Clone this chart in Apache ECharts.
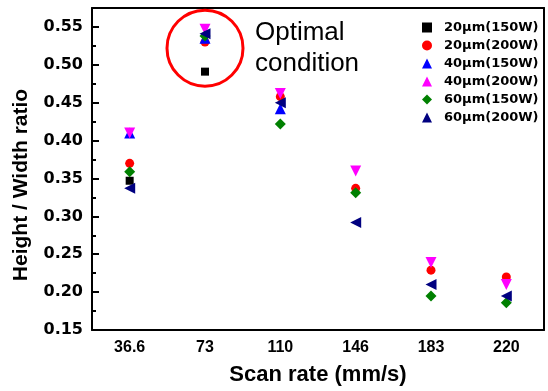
<!DOCTYPE html>
<html>
<head>
<meta charset="utf-8">
<script src="https://cdn.jsdelivr.net/npm/echarts@6/dist/echarts.min.js"></script>
<style>
  html, body { margin: 0; padding: 0; background: #fff; }
  #chart { width: 548px; height: 391px; }
</style>
</head>
<body>
<div id="chart"></div>
<script>
const scanRates = ['36.6', '73', '110', '146', '183', '220']
const seriesNames = ['20μm(150W)', '20μm(200W)', '40μm(150W)', '40μm(200W)', '60μm(150W)', '60μm(200W)']

// null = hidden behind other markers
const d20_150 = [0.347, 0.491, null, null, null, null]
const d20_200 = [0.370, 0.530, 0.458, 0.337, 0.229, 0.220]
const d40_150 = [0.410, 0.535, 0.442, null, null, null]
const d40_200 = [0.410, 0.547, 0.462, 0.360, 0.239, 0.210]
const d60_150 = [0.359, 0.538, 0.422, 0.331, 0.195, 0.186]
const d60_200 = [0.337, 0.541, 0.450, 0.292, 0.210, 0.195]

const optimal = { rate: '73', value: 0.522 }

const chart = echarts.init(document.getElementById('chart'))

const styles = [
  { color: '#000000', symbol: 'rect', size: 8, rotate: 0 },
  { color: '#ff0000', symbol: 'circle', size: 9, rotate: 0 },
  { color: '#0000ff', symbol: 'triangle', size: 11, rotate: 0 },
  { color: '#ff00ff', symbol: 'triangle', size: 11, rotate: 180 },
  { color: '#008000', symbol: 'diamond', size: 11, rotate: 0 },
  { color: '#000080', symbol: 'triangle', size: 11, rotate: 90 },
]
const allData = [d20_150, d20_200, d40_150, d40_200, d60_150, d60_200]

const series = allData.map((data, i) => ({
  name: seriesNames[i],
  type: 'scatter',
  data,
  symbol: styles[i].symbol,
  symbolSize: styles[i].size,
  symbolRotate: styles[i].rotate,
  itemStyle: { color: styles[i].color, opacity: 1 },
}))

// red ring around the optimal point
series[5].markPoint = {
  silent: true,
  data: [{
    coord: [optimal.rate, optimal.value],
    symbol: 'circle',
    symbolSize: 76,
    symbolRotate: 0,
    itemStyle: { color: 'rgba(0,0,0,0)', borderColor: '#ff0000', borderWidth: 3 },
    label: { show: false },
  }],
}

const option = {
  animation: false,
  grid: { left: 92, right: 4, top: 8, bottom: 59 },
  legend: {
    orient: 'vertical',
    left: 417,
    top: 16,
    itemWidth: 10,
    itemHeight: 10,
    itemGap: 5,
    data: seriesNames,
    textStyle: {
      fontFamily: 'DejaVu Sans',
      fontWeight: 'bold',
      fontSize: 13,
      color: '#000',
      padding: [0, 0, 0, 7],
    },
  },
  xAxis: [
    {
      type: 'category',
      data: scanRates,
      boundaryGap: true,
      name: 'Scan rate (mm/s)',
      nameLocation: 'middle',
      nameGap: 34,
      nameTextStyle: { fontFamily: 'Liberation Sans', fontWeight: 'bold', fontSize: 22, color: '#000' },
      axisLine: { lineStyle: { color: '#000', width: 2 } },
      axisTick: { alignWithLabel: true, inside: true, length: 6, lineStyle: { color: '#000', width: 2 } },
      axisLabel: { margin: 10, fontFamily: 'Liberation Sans', fontWeight: 'bold', fontSize: 16, color: '#000' },
      splitLine: { show: false },
    },
    {
      // minor ticks between categories
      type: 'category',
      data: scanRates,
      position: 'bottom',
      boundaryGap: true,
      axisLine: { show: false },
      axisTick: { inside: true, length: 3, lineStyle: { color: '#000', width: 2 } },
      axisLabel: { show: false },
      splitLine: { show: false },
    },
    {
      type: 'category',
      data: scanRates,
      position: 'top',
      boundaryGap: true,
      axisLine: { lineStyle: { color: '#000', width: 2 } },
      axisTick: { inside: false, length: 3, lineStyle: { color: '#bbb', width: 1 } },
      axisLabel: { show: false },
      splitLine: { show: false },
    },
  ],
  yAxis: [
    {
      type: 'value',
      min: 0.15,
      max: 0.575,
      interval: 0.05,
      name: 'Height / Width ratio',
      nameLocation: 'middle',
      nameGap: 60,
      nameTextStyle: {
        fontFamily: 'Liberation Sans', fontWeight: 'bold', fontSize: 21, color: '#000',
        padding: [0, 32, 0, 0],
      },
      axisLine: { show: true, lineStyle: { color: '#000', width: 2 } },
      axisTick: { show: true, inside: true, length: 7, lineStyle: { color: '#000', width: 2 } },
      minorTick: { show: true, splitNumber: 2, length: 4, lineStyle: { color: '#000', width: 2 } },
      axisLabel: {
        margin: 9,
        showMaxLabel: false,
        fontFamily: 'DejaVu Sans', fontWeight: 'bold', fontSize: 16, color: '#000',
        formatter: (v) => v.toFixed(2),
      },
      splitLine: { show: false },
    },
    {
      type: 'value',
      position: 'right',
      min: 0.15,
      max: 0.575,
      axisLine: { show: true, lineStyle: { color: '#000', width: 2 } },
      axisTick: { show: false },
      axisLabel: { show: false },
      splitLine: { show: false },
    },
  ],
  graphic: [
    {
      type: 'text',
      left: 255,
      top: 17,
      style: {
        text: 'Optimal\ncondition',
        font: '26px "Liberation Sans"',
        lineHeight: 31,
        fill: '#000',
        align: 'center',
        width: 100,
      },
    },
  ],
  series,
}

chart.setOption(option)
</script>
</body>
</html>
